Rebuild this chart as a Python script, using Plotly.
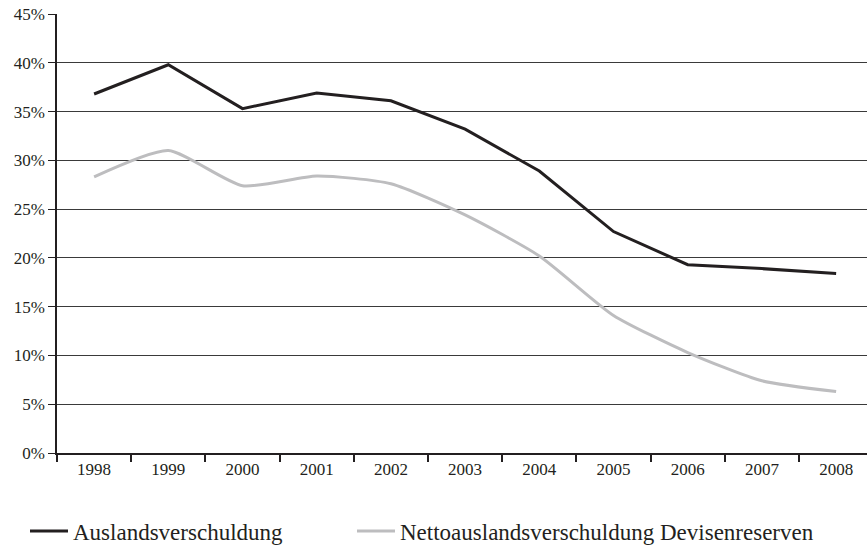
import plotly.graph_objects as go

# Jahresreihen (in Prozent)
years = ["1998", "1999", "2000", "2001", "2002", "2003", "2004", "2005", "2006", "2007", "2008"]
auslandsverschuldung = [36.8, 39.8, 35.3, 36.9, 36.1, 33.2, 28.9, 22.7, 19.3, 18.9, 18.4]
netto_devisenreserven = [28.3, 31.0, 27.4, 28.4, 27.6, 24.4, 20.2, 14.1, 10.3, 7.4, 6.3]

y_ticks = [0, 5, 10, 15, 20, 25, 30, 35, 40, 45]
y_tick_labels = [f"{v}%" for v in y_ticks]

FONT = "Liberation Serif, DejaVu Serif, serif"
INK = "#231f20"

fig = go.Figure()
fig.add_trace(go.Scatter(
    x=years, y=auslandsverschuldung, mode="lines",
    name="Auslandsverschuldung",
    line=dict(color=INK, width=3),
    legend="legend",
))
fig.add_trace(go.Scatter(
    x=years, y=netto_devisenreserven, mode="lines",
    name="Nettoauslandsverschuldung Devisenreserven",
    line=dict(color="#bdbdbf", width=3, shape="spline", smoothing=0.6),
    legend="legend2",
))

legend_common = dict(
    orientation="h",
    xref="container", yref="container",
    y=1 - 531 / 547,
    xanchor="left", yanchor="middle",
    font=dict(family=FONT, size=23, color=INK),
    itemwidth=38,
    bgcolor="rgba(0,0,0,0)",
)

fig.update_layout(
    width=867, height=547,
    margin=dict(l=57, r=0, t=14, b=94),
    paper_bgcolor="white", plot_bgcolor="white",
    font=dict(family=FONT, size=18, color=INK),
    showlegend=True,
    legend=dict(x=25 / 867, **legend_common),
    legend2=dict(x=352 / 867, **legend_common),
    xaxis=dict(
        type="category",
        range=[-0.5, 10.416],
        showgrid=False, zeroline=False,
        showline=True, linecolor=INK, linewidth=1.5,
        ticks="outside", tickson="boundaries", ticklen=7,
        tickcolor=INK, tickwidth=1.5,
        tickfont=dict(family=FONT, size=17, color=INK),
    ),
    yaxis=dict(
        range=[0, 45],
        tickvals=y_ticks, ticktext=y_tick_labels,
        showgrid=True, gridcolor="#3a3a3a", gridwidth=1.2,
        zeroline=False,
        showline=True, linecolor=INK, linewidth=1.5,
        ticks="outside", ticklen=7, tickcolor=INK, tickwidth=1.2,
        tickfont=dict(family=FONT, size=17, color=INK),
    ),
)

fig.write_html("out.html")
